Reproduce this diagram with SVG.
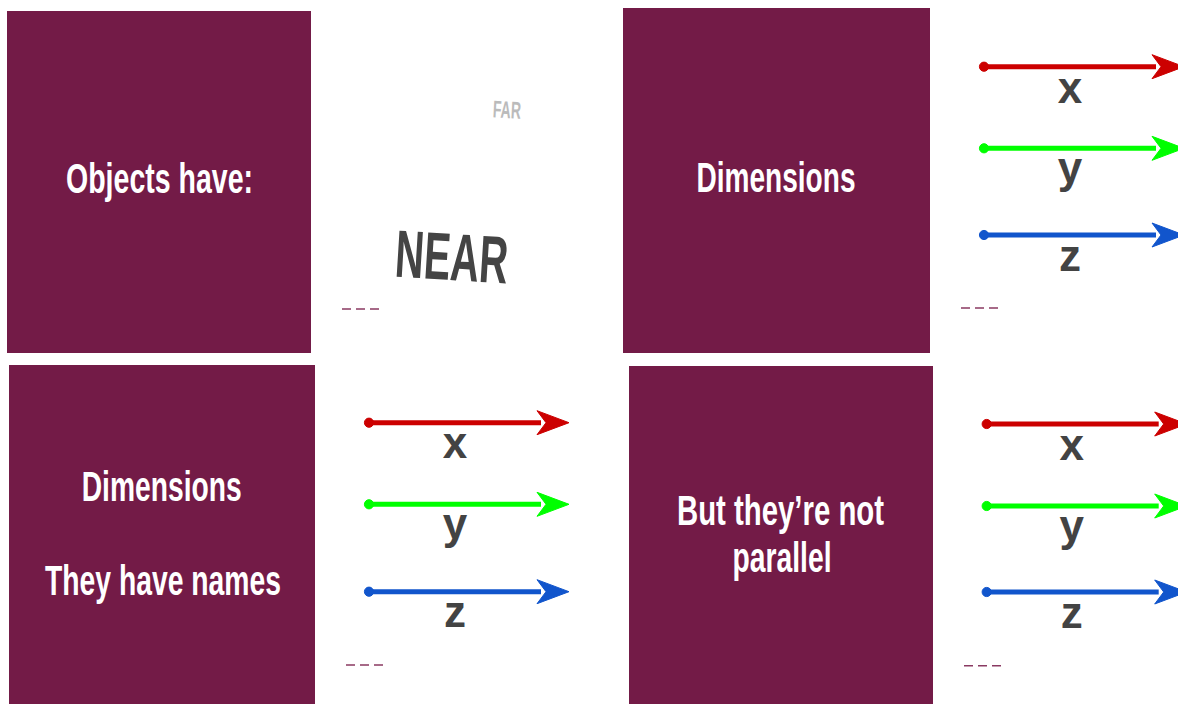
<svg xmlns="http://www.w3.org/2000/svg" width="1178" height="704" viewBox="0 0 1178 704">
<style>
.box{fill:#731b47}
.t{font-family:"Liberation Sans","DejaVu Sans",sans-serif;fill:#ffffff;font-size:43px;font-weight:bold;text-anchor:middle}
.lbl{font-family:"Liberation Sans","DejaVu Sans",sans-serif;fill:#434343;font-size:44px;font-weight:bold;text-anchor:middle}
.dash{stroke:#8a3a62;stroke-width:1.6;stroke-dasharray:9 5;fill:none}
.ln{stroke-width:5;fill:none}
</style>
<defs>
<g id="arrowR">
<line class="ln" x1="0" y1="0" x2="172" y2="0"/>
<circle cx="0" cy="0" r="4.6"/>
<polygon points="168,-12 200,0 168,12 177,0"/>
</g>
</defs>
<rect width="1178" height="704" fill="#ffffff"/>

<g id="node-objects">
<rect class="box" x="7" y="11" width="304" height="342"/>
<text class="t" x="159.5" y="193" textLength="187" lengthAdjust="spacingAndGlyphs">Objects have:</text>
</g>

<g id="node-nearfar">
<text x="507" y="118" font-family="Liberation Sans, sans-serif" font-size="24" font-weight="bold" fill="#bbbbbb" text-anchor="middle" textLength="28" lengthAdjust="spacingAndGlyphs" transform="rotate(3 507 110)">FAR</text>
<text x="452" y="280" font-family="Liberation Sans, sans-serif" font-size="67" font-weight="bold" fill="#444444" text-anchor="middle" textLength="113" lengthAdjust="spacingAndGlyphs" transform="rotate(3.5 452 255)">NEAR</text>
<line class="dash" x1="342" y1="309" x2="381" y2="309"/>
</g>

<g id="node-dimensions">
<rect class="box" x="623" y="8" width="307" height="345"/>
<text class="t" x="776" y="192" textLength="159" lengthAdjust="spacingAndGlyphs">Dimensions</text>
</g>

<g id="node-dimensions-names">
<rect class="box" x="9" y="365" width="306" height="339"/>
<text class="t" x="161.7" y="501" textLength="160" lengthAdjust="spacingAndGlyphs">Dimensions</text>
<text class="t" x="163" y="595" textLength="236" lengthAdjust="spacingAndGlyphs">They have names</text>
</g>

<g id="node-not-parallel">
<rect class="box" x="629" y="366" width="304" height="338"/>
<text class="t" x="780.5" y="525" textLength="207" lengthAdjust="spacingAndGlyphs">But they’re not</text>
<text class="t" x="782" y="572" textLength="99" lengthAdjust="spacingAndGlyphs">parallel</text>
</g>

<g id="connectors">
<use href="#arrowR" x="984" y="66.7" fill="#cc0000" stroke="#cc0000"/>
<use href="#arrowR" x="984" y="148.3" fill="#00ff00" stroke="#00ff00"/>
<use href="#arrowR" x="984" y="235" fill="#1155cc" stroke="#1155cc"/>
<use href="#arrowR" x="369" y="422.7" fill="#cc0000" stroke="#cc0000"/>
<use href="#arrowR" x="369" y="504.3" fill="#00ff00" stroke="#00ff00"/>
<use href="#arrowR" x="369" y="591.7" fill="#1155cc" stroke="#1155cc"/>
<use href="#arrowR" x="986.7" y="424" fill="#cc0000" stroke="#cc0000"/>
<use href="#arrowR" x="986.7" y="506" fill="#00ff00" stroke="#00ff00"/>
<use href="#arrowR" x="986.7" y="592" fill="#1155cc" stroke="#1155cc"/>
</g>

<g id="labels">
<text class="lbl" x="1070" y="103">x</text>
<text class="lbl" x="1070" y="183">y</text>
<text class="lbl" x="1070" y="271">z</text>
<line class="dash" x1="961" y1="308" x2="1000" y2="308"/>

<text class="lbl" x="455" y="458">x</text>
<text class="lbl" x="455" y="539">y</text>
<text class="lbl" x="455" y="627">z</text>
<line class="dash" x1="346" y1="665" x2="385" y2="665"/>

<text class="lbl" x="1071.7" y="460">x</text>
<text class="lbl" x="1071.7" y="541">y</text>
<text class="lbl" x="1071.7" y="628">z</text>
<line class="dash" x1="964" y1="665.7" x2="1003" y2="665.7"/>
</g>
</svg>
